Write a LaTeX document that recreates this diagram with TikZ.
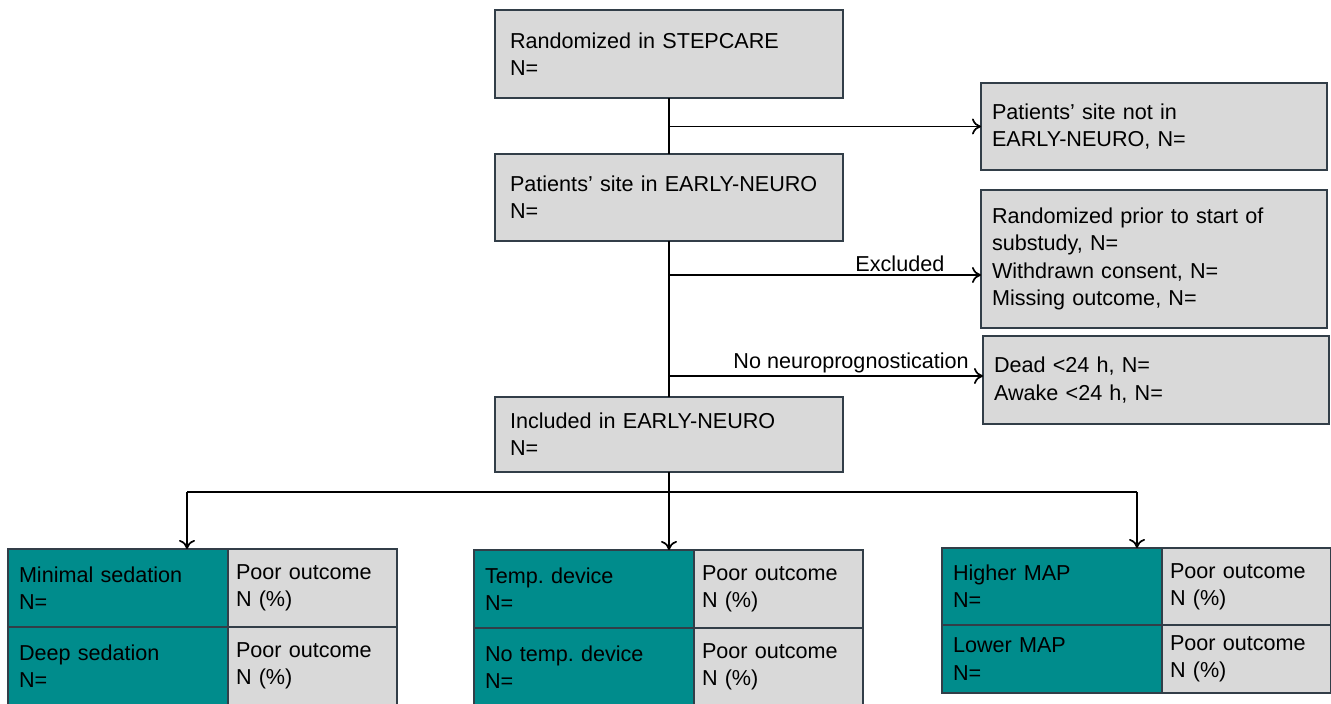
\documentclass[tikz,border=0pt]{standalone}
\usepackage{fontspec}
\setmainfont{Liberation Sans}
\usetikzlibrary{positioning,arrows.meta}
\definecolor{boxgrey}{RGB}{217,217,217}
\definecolor{armteal}{RGB}{0,140,140}
\definecolor{edgeline}{RGB}{50,62,72}
\begin{document}
\begin{tikzpicture}[x=0.5pt,y=-0.5pt,line width=0.85pt,>={To[length=4.5pt,width=8pt]},
    flowbox/.style={draw=edgeline, fill=boxgrey, line width=0.8pt, outer sep=0pt, align=left, inner xsep=7.5pt, text width=159pt, font=\fontsize{10.8}{13.6}\selectfont},
    sidebox/.style={flowbox, inner xsep=5.5pt, text width=162pt},
    armcell/.style={flowbox, fill=armteal, inner xsep=5.5pt, text width=99pt, minimum height=39pt},
    outcell/.style={flowbox, inner xsep=4pt, text width=76.5pt, minimum height=39pt},
    branchlabel/.style={above, inner sep=1pt, font=\fontsize{10.8}{13.6}\selectfont}]
  \useasboundingbox (0,0) rectangle (1331,704);
  \node[flowbox, minimum height=44pt] (rand) at (669,54) {Randomized in STEPCARE\\N=};
  \node[flowbox, minimum height=43.5pt] (site) at (669,197.5) {Patients’ site in EARLY-NEURO\\N=};
  \node[flowbox, minimum height=37.5pt] (incl) at (669,434.5) {Included in EARLY-NEURO\\N=};
  \node[sidebox, minimum height=43.5pt] (notsite) at (1154,126.5) {Patients’ site not in\\EARLY-NEURO, N=};
  \node[sidebox, minimum height=69pt] (excl) at (1154,259) {Randomized prior to start of\\substudy, N=\\Withdrawn consent, N=\\Missing outcome, N=};
  \node[sidebox, minimum height=44pt] (noprog) at (1156,380) {Dead <24 h, N=\\Awake <24 h, N=};

  \node[armcell] (sedA) at (118,588) {Minimal sedation\\N=};
  \node[outcell, right=0pt of sedA] (sedAout) {Poor outcome\\N (\%)};
  \node[armcell, below=0pt of sedA] (sedB) {Deep sedation\\N=};
  \node[outcell, right=0pt of sedB] (sedBout) {Poor outcome\\N (\%)};

  \node[armcell] (tempA) at (584,589) {Temp.\ device\\N=};
  \node[outcell, right=0pt of tempA] (tempAout) {Poor outcome\\N (\%)};
  \node[armcell, below=0pt of tempA] (tempB) {No temp.\ device\\N=};
  \node[outcell, right=0pt of tempB] (tempBout) {Poor outcome\\N (\%)};

  \node[armcell, minimum height=38.5pt] (mapA) at (1052,586.5) {Higher MAP\\N=};
  \node[outcell, minimum height=38.5pt, right=0pt of mapA] (mapAout) {Poor outcome\\N (\%)};
  \node[armcell, minimum height=34pt, below=0pt of mapA] (mapB) {Lower MAP\\N=};
  \node[outcell, minimum height=34pt, right=0pt of mapB] (mapBout) {Poor outcome\\N (\%)};

  \draw (rand.south) -- (site.north);
  \draw[->] (rand.south |- notsite.west) -- (notsite.west);
  \draw (site.south) -- (incl.north);
  \coordinate (exclat) at (669,275);
  \draw[->] (exclat) -- (exclat -| excl.west) node[branchlabel, pos=0.74] {Excluded};
  \coordinate (progat) at (669,376);
  \draw[->] (progat) -- (progat -| noprog.west) node[branchlabel, pos=0.58] {No neuroprognostication};
  \coordinate (splitL) at (187,492);
  \coordinate (splitR) at (1137,492);
  \draw (splitL) -- (splitR);
  \draw[->] (incl.south) -- (incl.south |- tempA.north);
  \draw[->] (splitL) -- (splitL |- sedA.north);
  \draw[->] (splitR) -- (splitR |- mapA.north);
\end{tikzpicture}
\end{document}
